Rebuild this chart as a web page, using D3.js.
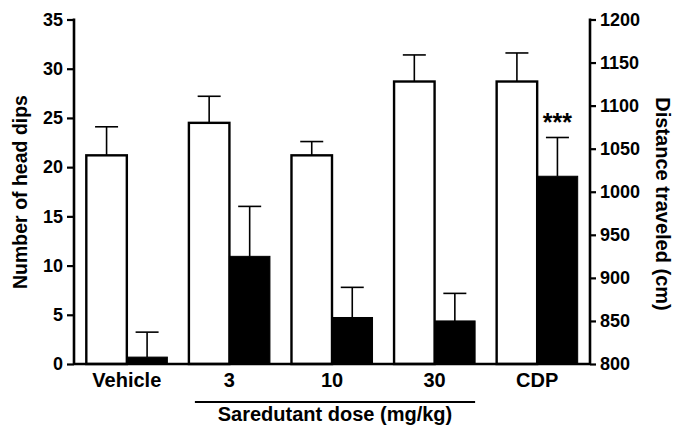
<!DOCTYPE html>
<html>
<head>
<meta charset="utf-8">
<script src="https://cdn.jsdelivr.net/npm/d3@7"></script>
<style>
  body { margin: 0; background: #fff; }
  text { font-family: "Liberation Sans", Arial, sans-serif; font-weight: bold; fill: #000; }
</style>
</head>
<body>
<div id="chart"></div>
<script>
// groups on the x axis
var groups = ["Vehicle", "3", "10", "30", "CDP"];
// white bars: number of head dips (left axis), mean and mean+SEM
var headDips = [21.2, 24.5, 21.2, 28.7, 28.7];
var headDipsErr = [24.1, 27.2, 22.6, 31.4, 31.6];
// black bars: distance traveled in cm (right axis)
var distance = [808, 925, 854, 850, 1018];
var distanceErr = [837, 983, 889, 882, 1063];
var leftTicks = [0, 5, 10, 15, 20, 25, 30, 35];
var rightTicks = [800, 850, 900, 950, 1000, 1050, 1100, 1150, 1200];
var doseGroups = ["3", "10", "30"];
var signif = {group: "CDP", label: "***"};

const width = 673;
const height = 427;

const svg = d3.select("#chart").append("svg")
    .attr("width", width)
    .attr("height", height);

let x = d3.scaleBand().domain(groups).range([74, 590]).paddingInner(0.21).paddingOuter(0.12);
let xSub = d3.scaleBand().domain(["dips", "dist"]).range([0, x.bandwidth()]);
let yLeft = d3.scaleLinear().domain([0, 35]).range([364, 19.5]);
let yRight = d3.scaleLinear().domain([800, 1200]).range([364, 19.5]);

let data = groups.map((g, i) => ({
    group: g,
    dips: headDips[i], dipsErr: headDipsErr[i],
    dist: distance[i], distErr: distanceErr[i]
}));

// error bars first, bars go over them
const capW = 23;
const err = svg.append("g").attr("stroke", "#000").attr("stroke-width", 1.6);
data.forEach(d => {
    let cx1 = x(d.group) + xSub("dips") + xSub.bandwidth() / 2;
    let cx2 = x(d.group) + xSub("dist") + xSub.bandwidth() / 2;
    err.append("line").attr("x1", cx1).attr("x2", cx1).attr("y1", yLeft(d.dips)).attr("y2", yLeft(d.dipsErr));
    err.append("line").attr("x1", cx1 - capW / 2).attr("x2", cx1 + capW / 2).attr("y1", yLeft(d.dipsErr)).attr("y2", yLeft(d.dipsErr));
    err.append("line").attr("x1", cx2).attr("x2", cx2).attr("y1", yRight(d.dist)).attr("y2", yRight(d.distErr));
    err.append("line").attr("x1", cx2 - capW / 2).attr("x2", cx2 + capW / 2).attr("y1", yRight(d.distErr)).attr("y2", yRight(d.distErr));
});

svg.append("g").selectAll("rect.dips")
    .data(data).join("rect")
    .attr("x", d => x(d.group) + xSub("dips"))
    .attr("y", d => yLeft(d.dips))
    .attr("width", xSub.bandwidth())
    .attr("height", d => yLeft(0) - yLeft(d.dips))
    .attr("fill", "#fff").attr("stroke", "#000").attr("stroke-width", 2.4);

svg.append("g").selectAll("rect.dist")
    .data(data).join("rect")
    .attr("x", d => x(d.group) + xSub("dist"))
    .attr("y", d => yRight(d.dist))
    .attr("width", xSub.bandwidth())
    .attr("height", d => yRight(800) - yRight(d.dist))
    .attr("fill", "#000").attr("stroke", "#000").attr("stroke-width", 1);

// axes
let axL = svg.append("g").attr("transform", "translate(74,0)")
    .call(d3.axisLeft(yLeft).tickValues(leftTicks).tickSize(7).tickPadding(4));
let axR = svg.append("g").attr("transform", "translate(590,0)")
    .call(d3.axisRight(yRight).tickValues(rightTicks).tickFormat(d3.format("d")).tickSize(6).tickPadding(4));
[axL, axR].forEach(a => {
    a.attr("font-size", null).attr("font-family", null);
    a.select(".domain").remove();
    a.selectAll(".tick line").attr("stroke", "#000").attr("stroke-width", 2.2);
    a.selectAll(".tick text").style("font-size", "18px");
});
svg.append("line").attr("x1", 74).attr("x2", 74).attr("y1", yLeft(35) - 1).attr("y2", yLeft(0))
    .attr("stroke", "#000").attr("stroke-width", 2.6);
svg.append("line").attr("x1", 590).attr("x2", 590).attr("y1", yRight(1200) - 1).attr("y2", yRight(800))
    .attr("stroke", "#000").attr("stroke-width", 2.6);
svg.append("line").attr("x1", 74).attr("x2", 590).attr("y1", yLeft(0)).attr("y2", yLeft(0))
    .attr("stroke", "#000").attr("stroke-width", 2.6);

// category labels
svg.append("g").selectAll("text")
    .data(groups).join("text")
    .attr("x", d => x(d) + x.bandwidth() / 2)
    .attr("y", 387)
    .attr("text-anchor", "middle")
    .style("font-size", "20px")
    .text(d => d);

// saredutant bracket
let x0 = x(doseGroups[0]) + 6;
let x1 = x(doseGroups[doseGroups.length - 1]) + x.bandwidth();
svg.append("line").attr("x1", x0).attr("x2", x1).attr("y1", 402).attr("y2", 402)
    .attr("stroke", "#000").attr("stroke-width", 1.8);
svg.append("text").attr("x", (x0 + x1) / 2).attr("y", 421)
    .attr("text-anchor", "middle").style("font-size", "20px")
    .text("Saredutant dose (mg/kg)");

// significance
let sd = data.find(d => d.group === signif.group);
svg.append("text")
    .attr("x", x(sd.group) + xSub("dist") + xSub.bandwidth() / 2)
    .attr("y", yRight(sd.distErr) - 6)
    .attr("text-anchor", "middle").style("font-size", "25px")
    .text(signif.label);

// axis titles
svg.append("text")
    .attr("transform", "translate(27,192) rotate(-90)")
    .attr("text-anchor", "middle").style("font-size", "19.5px")
    .text("Number of head dips");
svg.append("text")
    .attr("transform", "translate(656,204) rotate(90)")
    .attr("text-anchor", "middle").style("font-size", "20px")
    .text("Distance traveled (cm)");
</script>
</body>
</html>
